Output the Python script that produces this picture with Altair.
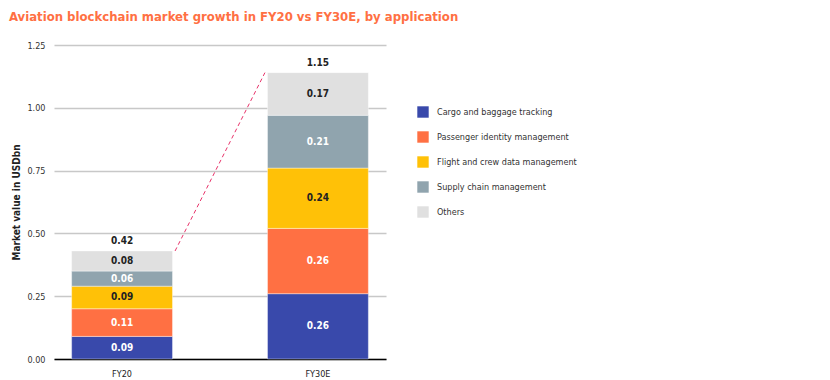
import altair as alt
import pandas as pd

periods = ["FY20", "FY30E"]
categories = [
    "Cargo and baggage tracking",
    "Passenger identity management",
    "Flight and crew data management",
    "Supply chain management",
    "Others",
]
colors = ["#3949ab", "#ff7043", "#ffc107", "#90a4ae", "#e0e0e0"]
fy20_values = [0.09, 0.11, 0.09, 0.06, 0.08]
fy30_values = [0.26, 0.26, 0.24, 0.21, 0.17]
totals = [0.42, 1.15]
y_ticks = [0.0, 0.25, 0.5, 0.75, 1.0, 1.25]

FONT = "'DejaVu Sans Condensed', 'Roboto Condensed', Roboto, sans-serif"

rows = []
for p, vals in zip(periods, [fy20_values, fy30_values]):
    for i, (c, v) in enumerate(zip(categories, vals)):
        rows.append({"period": p, "category": c, "order": i, "value": v,
                     "label": f"{v:.2f}"})
seg = pd.DataFrame(rows)

tops = [sum(fy20_values), sum(fy30_values)]
tot = pd.DataFrame({"period": periods, "top": tops,
                    "label": [f"{t:.2f}" for t in totals]})
conn = pd.DataFrame({"p1": [periods[0]], "p2": [periods[1]],
                     "t1": [tops[0]], "t2": [tops[1]]})

xscale = alt.Scale(domain=periods, paddingInner=0.485, paddingOuter=0.09)
yscale = alt.Scale(domain=[0, 1.25])

base = alt.Chart(seg).transform_stack(
    stack="value", as_=["v0", "v1"], groupby=["period"],
    sort=[alt.SortField("order")]
).transform_calculate(mid="(datum.v0 + datum.v1) / 2")

bars = base.mark_bar(stroke="white", strokeWidth=0.4).encode(
    x=alt.X("period:N", scale=xscale, sort=periods,
            axis=alt.Axis(title=None, labelAngle=0, ticks=False, tickSize=0,
                          domainColor="#000", domainWidth=1.5,
                          labelPadding=10, labelFontSize=9,
                          labelColor="#222", labelFont=FONT)),
    y=alt.Y("v0:Q", scale=yscale,
            axis=alt.Axis(title="Market value in USDbn", values=y_ticks,
                          format=".2f", domain=False, ticks=False, tickSize=0,
                          gridColor="#c8c8c8", gridWidth=1.5,
                          labelPadding=9, labelFontSize=9,
                          labelColor="#333", labelFont=FONT,
                          titleFont=FONT, titleFontSize=10,
                          titleFontWeight="bold", titleColor="#222",
                          titlePadding=5)),
    y2="v1:Q",
    color=alt.Color("category:N", sort=categories,
                    scale=alt.Scale(domain=categories, range=colors),
                    legend=alt.Legend(title=None, orient="none",
                                      legendX=363, legendY=61,
                                      symbolType="square", symbolSize=130,
                                      symbolStrokeWidth=0, rowPadding=13,
                                      labelFont=FONT, labelFontSize=9,
                                      labelColor="#333", labelOffset=8)),
    order=alt.Order("order:Q"),
)

seg_text = base.mark_text(font=FONT, fontSize=10, fontWeight="bold").encode(
    x=alt.X("period:N", scale=xscale, sort=periods),
    y=alt.Y("mid:Q", scale=yscale),
    text="label:N",
    color=alt.condition(
        alt.FieldOneOfPredicate(field="category",
                                oneOf=[categories[0], categories[1], categories[3]]),
        alt.value("white"), alt.value("#222")),
)

tot_text = alt.Chart(tot).mark_text(font=FONT, fontSize=10, fontWeight="bold",
                                    baseline="bottom", dy=-5, color="#222").encode(
    x=alt.X("period:N", scale=xscale, sort=periods),
    y=alt.Y("top:Q", scale=yscale),
    text="label:N",
)

connector = alt.Chart(conn).mark_rule(color="#e8336a", strokeDash=[4, 3],
                                      strokeWidth=1, xOffset=53,
                                      x2Offset=-53).encode(
    x=alt.X("p1:N", scale=xscale),
    x2="p2:N",
    y=alt.Y("t1:Q", scale=yscale),
    y2="t2:Q",
)

chart = alt.layer(bars, connector, seg_text, tot_text).properties(
    width=332, height=314,
    padding={"left": 0, "top": 3, "right": 5, "bottom": 0},
    title=alt.TitleParams(
        "Aviation blockchain market growth in FY20 vs FY30E, by application",
        anchor="start", frame="bounds", font=FONT, fontSize=13,
        fontWeight="bold", color="#ff7043", offset=17, dx=-3),
).configure_view(stroke=None)

chart.save("out.html", embed_options={"renderer": "svg", "actions": False})
